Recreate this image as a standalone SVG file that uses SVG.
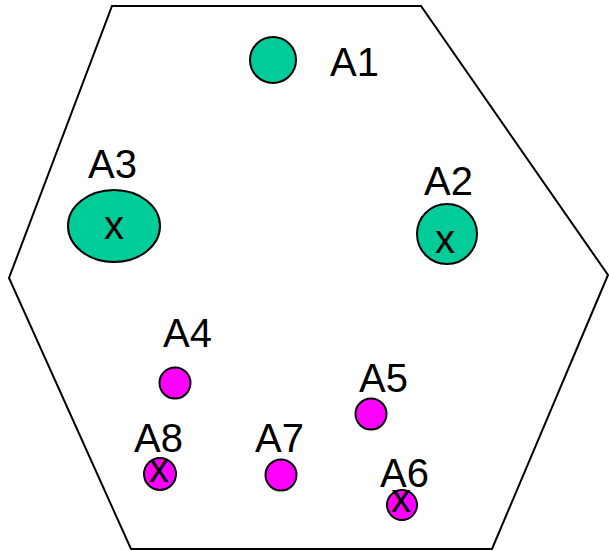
<svg xmlns="http://www.w3.org/2000/svg" width="609" height="551" viewBox="0 0 609 551">
<style>
.g{fill:#00CC99;stroke:#000;stroke-width:2}
.m{fill:#FF00FF;stroke:#000;stroke-width:2}
text{font-family:"Liberation Sans",Arial,sans-serif;font-size:40px;fill:#000}
.x{text-anchor:middle}
</style>
<rect width="609" height="551" fill="#fff"/>
<g id="hexagon">
<polygon points="112,6 421,6 608,275 492,549 131,549 9,278" fill="none" stroke="#000" stroke-width="2"/>
</g>
<g id="connectors"></g>
<g id="A1"><circle class="g" cx="273" cy="60" r="23"/><text x="330" y="76">A1</text></g>
<g id="A2"><ellipse class="g" cx="447" cy="234" rx="30" ry="30"/><text x="424" y="195">A2</text><text class="x" x="445" y="253">x</text></g>
<g id="A3"><ellipse class="g" cx="114" cy="226" rx="46" ry="36"/><text x="88" y="178">A3</text><text class="x" x="114" y="239">x</text></g>
<g id="A4"><circle class="m" cx="175" cy="383" r="15.5"/><text x="163" y="347">A4</text></g>
<g id="A5"><circle class="m" cx="371" cy="414" r="15.5"/><text x="359" y="392">A5</text></g>
<g id="A6"><circle class="m" cx="402" cy="505" r="15"/><text x="380" y="487">A6</text><text class="x" x="401" y="512">x</text></g>
<g id="A7"><circle class="m" cx="281" cy="475" r="15.5"/><text x="255" y="452">A7</text></g>
<g id="A8"><circle class="m" cx="160" cy="474" r="16"/><text x="134" y="452">A8</text><text class="x" x="159" y="482">x</text></g>
</svg>
